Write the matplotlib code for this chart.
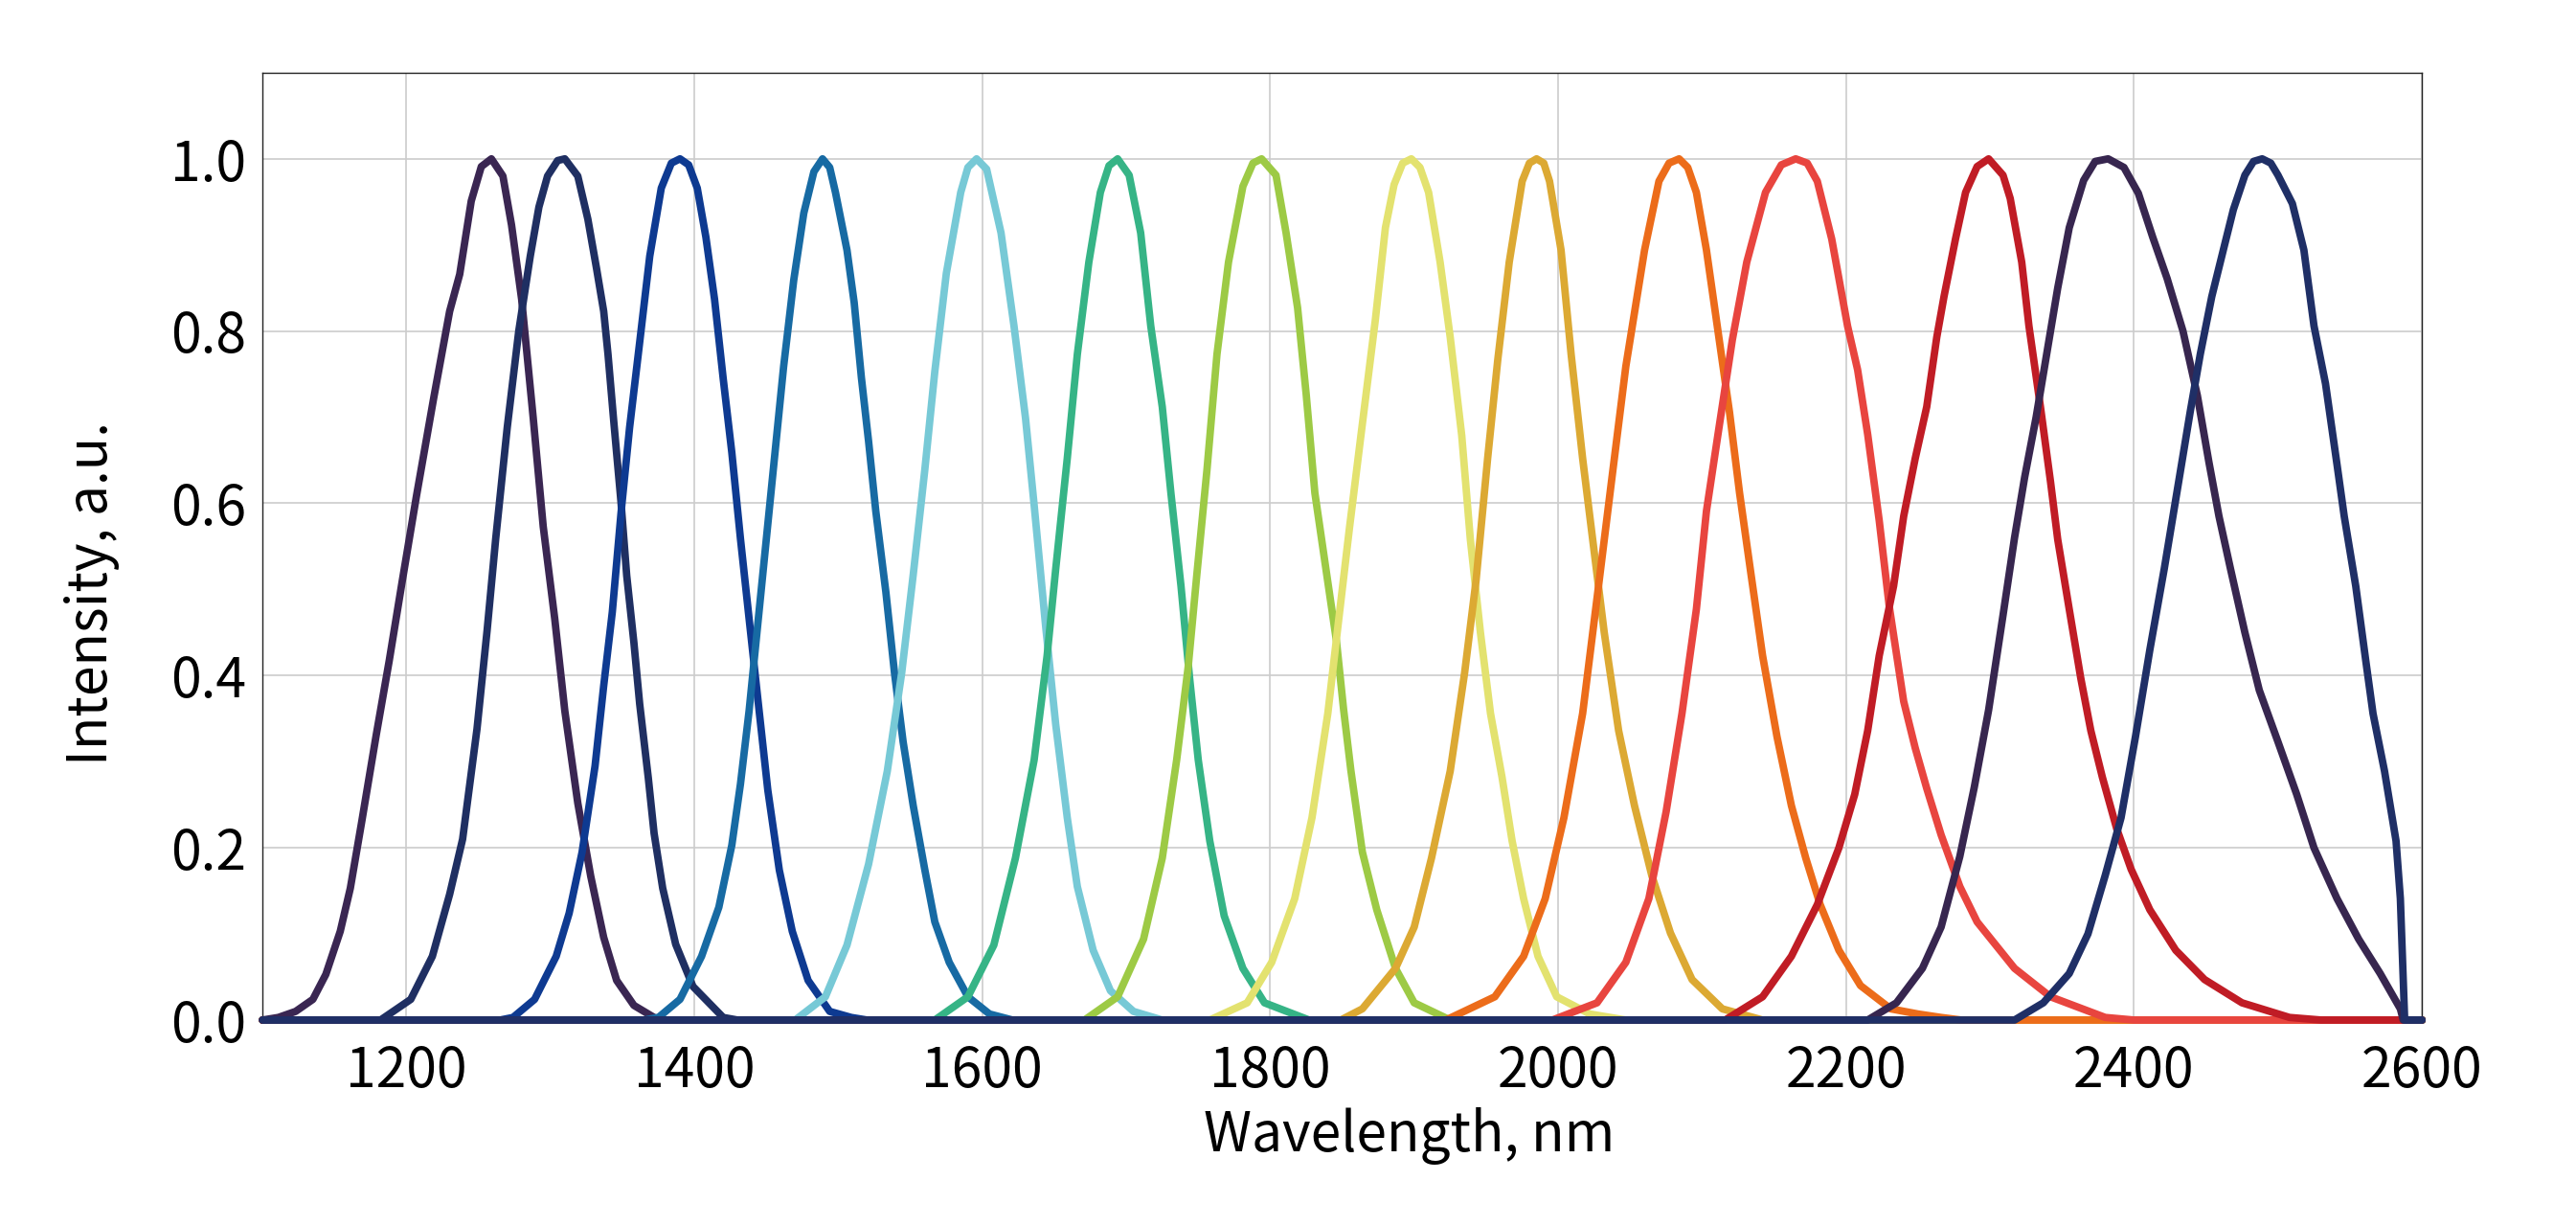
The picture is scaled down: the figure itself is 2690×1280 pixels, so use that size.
import numpy as np
import matplotlib.pyplot as plt

plt.rcParams['font.family'] = ['Noto Sans CJK SC', 'DejaVu Sans']

# spectra: wavelength (nm) and normalised intensity
x1 = [1100, 1111, 1123, 1135, 1144, 1154, 1161, 1169, 1179, 1188, 1197, 1207, 1219, 1230, 1237, 1245, 1252, 1259,
      1267, 1273, 1280, 1288, 1295, 1303, 1310, 1319, 1328, 1337, 1346, 1358, 1372, 1380, 2600]
y1 = [0, 0.003, 0.01, 0.024, 0.053, 0.103, 0.153, 0.231, 0.331, 0.417, 0.509, 0.609, 0.723, 0.823, 0.866, 0.951, 0.991, 1.0,
      0.98, 0.923, 0.837, 0.70, 0.573, 0.466, 0.359, 0.252, 0.167, 0.096, 0.046, 0.017, 0.003, 0, 0]

x2 = [1100, 1182, 1203, 1218, 1230, 1239, 1249, 1256, 1262, 1270, 1278, 1286, 1292, 1298, 1305, 1310,
      1319, 1326, 1332, 1337, 1340, 1344, 1349, 1353, 1358, 1362, 1368, 1372, 1378, 1387, 1399, 1420, 1430, 2600]
y2 = [0, 0, 0.024, 0.074, 0.146, 0.21, 0.338, 0.452, 0.559, 0.688, 0.80, 0.887, 0.944, 0.98, 0.998, 1.0,
      0.98, 0.93, 0.873, 0.823, 0.773, 0.695, 0.602, 0.516, 0.438, 0.367, 0.281, 0.217, 0.153, 0.088, 0.039, 0.003, 0, 0]

x3 = [1100, 1265, 1274, 1289, 1304, 1313, 1322, 1331, 1337, 1343, 1349, 1355, 1362, 1369, 1377, 1384, 1390,
      1396, 1402, 1408, 1414, 1420, 1426, 1432, 1438, 1444, 1451, 1459, 1468, 1479, 1494, 1509, 1520, 2600]
y3 = [0, 0, 0.003, 0.024, 0.074, 0.124, 0.195, 0.295, 0.388, 0.474, 0.588, 0.688, 0.787, 0.887, 0.966, 0.995, 1.0,
      0.993, 0.966, 0.909, 0.837, 0.745, 0.659, 0.559, 0.466, 0.374, 0.267, 0.174, 0.103, 0.046, 0.01, 0.003, 0, 0]

x4 = [1100, 1365, 1375, 1390, 1405, 1417, 1426, 1432, 1438, 1444, 1450, 1456, 1462, 1469, 1476, 1483, 1489,
      1494, 1498, 1506, 1511, 1516, 1521, 1526, 1533, 1539, 1545, 1552, 1560, 1567, 1577, 1590, 1605, 1621, 2600]
y4 = [0, 0, 0.003, 0.024, 0.074, 0.131, 0.203, 0.274, 0.359, 0.459, 0.559, 0.659, 0.759, 0.859, 0.937, 0.985, 1.0,
      0.99, 0.961, 0.894, 0.833, 0.746, 0.672, 0.591, 0.497, 0.403, 0.323, 0.249, 0.175, 0.114, 0.067, 0.027, 0.007, 0, 0]

x5 = [1100, 1470, 1491, 1506, 1521, 1534, 1544, 1552, 1560, 1567, 1575, 1585, 1590, 1596,
      1603, 1613, 1622, 1630, 1636, 1644, 1651, 1659, 1666, 1677, 1689, 1705, 1725, 2600]
y5 = [0, 0, 0.027, 0.087, 0.181, 0.289, 0.403, 0.517, 0.638, 0.753, 0.867, 0.961, 0.99, 1.0,
      0.988, 0.914, 0.806, 0.699, 0.598, 0.457, 0.343, 0.235, 0.155, 0.081, 0.034, 0.01, 0, 0]

x6 = [1100, 1567, 1590, 1608, 1623, 1636, 1645, 1651, 1659, 1666, 1674, 1682, 1688, 1694,
      1702, 1710, 1717, 1725, 1731, 1738, 1744, 1750, 1758, 1768, 1781, 1796, 1827, 2600]
y6 = [0, 0, 0.027, 0.087, 0.188, 0.302, 0.423, 0.524, 0.652, 0.773, 0.88, 0.961, 0.992, 1.0,
      0.981, 0.914, 0.806, 0.712, 0.612, 0.504, 0.397, 0.302, 0.208, 0.121, 0.06, 0.02, 0, 0]

x7 = [1100, 1671, 1694, 1712, 1725, 1735, 1743, 1749, 1756, 1763, 1771, 1781, 1788, 1794,
      1804, 1811, 1819, 1825, 1831, 1839, 1846, 1851, 1856, 1864, 1874, 1887, 1900, 1925, 2600]
y7 = [0, 0, 0.027, 0.094, 0.188, 0.302, 0.41, 0.517, 0.638, 0.773, 0.88, 0.968, 0.995, 1.0,
      0.981, 0.914, 0.827, 0.726, 0.612, 0.52, 0.44, 0.36, 0.29, 0.195, 0.128, 0.06, 0.02, 0, 0]

x8 = [1100, 1758, 1784, 1801, 1817, 1829, 1840, 1847, 1855, 1863, 1873, 1880, 1886, 1892, 1898,
      1904, 1910, 1918, 1925, 1933, 1939, 1946, 1953, 1961, 1968, 1976, 1986, 1999, 2022, 2047, 2600]
y8 = [0, 0, 0.02, 0.067, 0.141, 0.235, 0.356, 0.457, 0.571, 0.679, 0.813, 0.92, 0.97, 0.995, 1.0,
      0.99, 0.961, 0.88, 0.793, 0.679, 0.558, 0.45, 0.356, 0.282, 0.208, 0.141, 0.074, 0.027, 0.007, 0, 0]

x9 = [1100, 1849, 1864, 1887, 1900, 1912, 1925, 1935, 1943, 1951, 1958, 1966, 1975, 1980, 1985,
      1990, 1994, 2002, 2009, 2017, 2025, 2032, 2042, 2053, 2065, 2078, 2093, 2114, 2142, 2600]
y9 = [0, 0, 0.013, 0.06, 0.108, 0.188, 0.289, 0.403, 0.511, 0.652, 0.766, 0.88, 0.974, 0.995, 1.0,
      0.995, 0.974, 0.894, 0.773, 0.652, 0.544, 0.45, 0.336, 0.249, 0.168, 0.101, 0.047, 0.013, 0, 0]

x10 = [1100, 1922, 1956, 1976, 1991, 2004, 2017, 2027, 2037, 2047, 2060, 2070, 2077, 2084,
       2090, 2096, 2103, 2111, 2119, 2126, 2134, 2142, 2152, 2162, 2172, 2182, 2195, 2210, 2231, 2250, 2266, 2280, 2600]
y10 = [0, 0, 0.027, 0.074, 0.141, 0.235, 0.356, 0.49, 0.625, 0.759, 0.894, 0.974, 0.995, 1.0,
       0.99, 0.961, 0.894, 0.8, 0.706, 0.612, 0.517, 0.423, 0.329, 0.249, 0.188, 0.134, 0.081, 0.04, 0.013, 0.007, 0.003, 0, 0]

x11 = [1100, 1996, 2027, 2047, 2063, 2075, 2086, 2096, 2103, 2111, 2121, 2131, 2144, 2155, 2165,
       2173, 2180, 2190, 2201, 2208, 2215, 2223, 2230, 2240, 2248, 2256, 2266, 2279, 2291, 2317, 2342, 2380, 2400, 2600]
y11 = [0, 0, 0.02, 0.067, 0.141, 0.242, 0.356, 0.477, 0.591, 0.68, 0.79, 0.88, 0.961, 0.993, 1.0,
       0.995, 0.974, 0.907, 0.806, 0.755, 0.68, 0.58, 0.48, 0.37, 0.316, 0.269, 0.215, 0.155, 0.114, 0.06, 0.027, 0.003, 0, 0]

x12 = [1100, 2116, 2142, 2162, 2180, 2195, 2206, 2215, 2223, 2233, 2240, 2248, 2256, 2263, 2268, 2276, 2283, 2291, 2299,
       2309, 2314, 2322, 2327, 2335, 2342, 2347, 2355, 2363, 2370, 2378, 2388, 2398, 2411, 2429, 2449, 2475, 2508, 2530, 2600]
y12 = [0, 0, 0.027, 0.074, 0.134, 0.2, 0.262, 0.336, 0.423, 0.504, 0.585, 0.652, 0.712, 0.793, 0.84, 0.907, 0.961, 0.991, 1.0,
       0.981, 0.954, 0.88, 0.806, 0.712, 0.625, 0.558, 0.477, 0.397, 0.336, 0.282, 0.222, 0.175, 0.128, 0.081, 0.047, 0.02, 0.003, 0, 0]

x13 = [1100, 2215, 2235, 2253, 2266, 2279, 2289, 2299, 2309, 2317, 2324, 2332, 2340, 2347, 2355, 2365, 2373, 2382,
       2393, 2403, 2413, 2423, 2434, 2444, 2452, 2459, 2467, 2477, 2487, 2500, 2513, 2525, 2541, 2556, 2571, 2585, 2587, 2600]
y13 = [0, 0, 0.02, 0.06, 0.108, 0.19, 0.27, 0.36, 0.47, 0.56, 0.63, 0.70, 0.78, 0.85, 0.92, 0.975, 0.997, 1.0,
       0.99, 0.96, 0.909, 0.861, 0.80, 0.725, 0.648, 0.585, 0.524, 0.45, 0.383, 0.323, 0.262, 0.2, 0.141, 0.094, 0.054, 0.013, 0, 0]

x14 = [1100, 2317, 2337, 2355, 2368, 2380, 2391, 2401, 2411, 2421, 2431, 2439, 2446, 2454, 2462, 2469, 2477, 2483, 2489,
       2495, 2500, 2510, 2518, 2525, 2533, 2541, 2546, 2554, 2561, 2566, 2574, 2582, 2585, 2588, 2600]
y14 = [0, 0, 0.02, 0.054, 0.1, 0.168, 0.235, 0.329, 0.43, 0.524, 0.625, 0.706, 0.773, 0.84, 0.894, 0.941, 0.981, 0.997, 1.0,
       0.995, 0.981, 0.948, 0.894, 0.806, 0.739, 0.645, 0.585, 0.504, 0.417, 0.356, 0.289, 0.208, 0.141, 0, 0]

curves = [(x1, y1), (x2, y2), (x3, y3), (x4, y4), (x5, y5), (x6, y6), (x7, y7),
          (x8, y8), (x9, y9), (x10, y10), (x11, y11), (x12, y12), (x13, y13), (x14, y14)]

colors = ['#3a2652', '#1f2f62', '#0e3a91', '#176aa3', '#77c9d6', '#36b486', '#9dca45',
          '#e3e26f', '#dca933', '#ec6c1a', '#e8453f', '#c01c25', '#37264f', '#1f2f66']

x_ticks = [1200, 1400, 1600, 1800, 2000, 2200, 2400, 2600]
y_ticks = [0.0, 0.2, 0.4, 0.6, 0.8, 1.0]

fig = plt.figure(figsize=(13.45, 6.4), dpi=200)
ax = fig.add_axes([0.1019, 0.168, 0.8383, 0.7727])

for (x, y), c in zip(curves, colors):
    ax.plot(x, y, color=c, lw=2.8, clip_on=False, zorder=3,
            solid_joinstyle='round', solid_capstyle='round')

ax.set_xlim(1100, 2600)
ax.set_ylim(0, 1.1)
ax.set_xticks(x_ticks)
ax.set_yticks(y_ticks)
ax.set_yticklabels([f'{v:.1f}' for v in y_ticks])
ax.grid(True, color='#cccccc', lw=0.6)
ax.set_axisbelow(True)
for s in ax.spines.values():
    s.set_linewidth(0.5)
    s.set_color('#222222')
ax.tick_params(length=0, labelsize=20.5)
ax.tick_params(axis='x', pad=9)
ax.tick_params(axis='y', pad=6)

# labels sit a bit off-centre in the original
ax.set_xlabel('Wavelength, nm', fontsize=20.5, va='baseline')
ax.xaxis.set_label_coords(0.531, -0.1385)
ax.set_ylabel('Intensity, a.u.', fontsize=20.5, va='baseline')
ax.yaxis.set_label_coords(-0.0718, 0.45)

fig.savefig('out.png', dpi=200)
